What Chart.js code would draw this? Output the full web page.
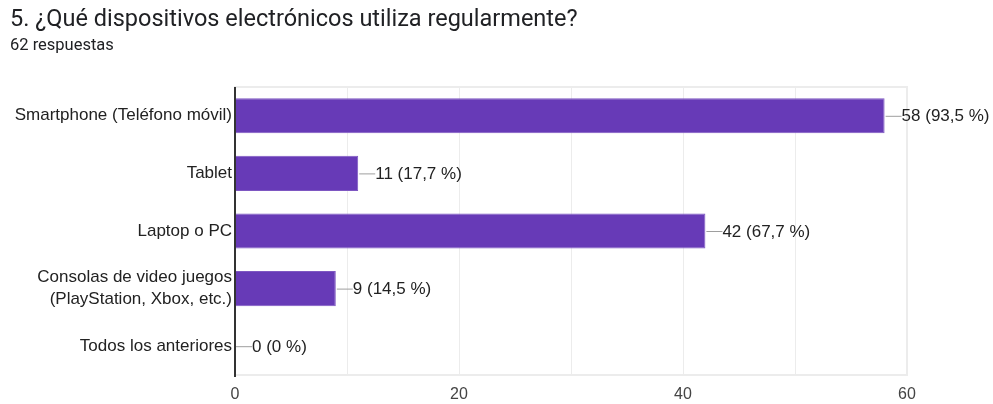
<!DOCTYPE html>
<html>
<head>
<meta charset="utf-8">
<script src="https://cdn.jsdelivr.net/npm/chart.js@4"></script>
<style>
  html, body { margin: 0; padding: 0; background: #fff; }
  #wrap { width: 993px; height: 404px; }
</style>
</head>
<body>
<div id="wrap"><canvas id="devices-chart" width="993" height="404"></canvas></div>
<script>
// ENCUESTA - pregunta 5

var categories = [
  "Smartphone (Teléfono móvil)",
  "Tablet",
  "Laptop o PC",
  ["Consolas de video juegos", "(PlayStation, Xbox, etc.)"],
  "Todos los anteriores",
];
var counts = [58, 11, 42, 9, 0];
var percents = ["93,5", "17,7", "67,7", "14,5", "0"];
var xTicks = [0, 20, 40, 60];

var labelFont = "Liberation Sans";

// leader line + "n (p %)" next to every bar
var valueLabels = {
  id: "valueLabels",
  afterDatasetsDraw: function (chart) {
    var ctx = chart.ctx;
    var meta = chart.getDatasetMeta(0);
    ctx.save();
    ctx.font = "17px " + labelFont;
    ctx.textBaseline = "middle";
    ctx.fillStyle = "#222";
    meta.data.forEach(function (bar, i) {
      var x = bar.x + 1;
      ctx.strokeStyle = "#9e9e9e";
      ctx.lineWidth = 1;
      ctx.beginPath();
      ctx.moveTo(x, bar.y + 0.5);
      ctx.lineTo(x + 16, bar.y + 0.5);
      ctx.stroke();
      ctx.fillText(counts[i] + " (" + percents[i] + " %)", x + 16, bar.y + 1);
    });
    ctx.restore();
  },
};

// light frame around the plot, dark baseline on the left
var plotFrame = {
  id: "plotFrame",
  beforeDatasetsDraw: function (chart) {
    var a = chart.chartArea;
    var ctx = chart.ctx;
    ctx.save();
    ctx.strokeStyle = "#ececec";
    ctx.lineWidth = 2;
    ctx.strokeRect(a.left, a.top, a.right - a.left, a.bottom - a.top);
    ctx.restore();
  },
  afterDatasetsDraw: function (chart) {
    var a = chart.chartArea;
    var ctx = chart.ctx;
    ctx.save();
    ctx.strokeStyle = "#333";
    ctx.lineWidth = 2;
    ctx.beginPath();
    ctx.moveTo(a.left, a.top);
    ctx.lineTo(a.left, a.bottom + 2);
    ctx.stroke();
    ctx.restore();
  },
};

var ctx = document.getElementById("devices-chart").getContext("2d");
var chart = new Chart(ctx, {
  type: "bar",
  data: {
    labels: categories,
    datasets: [
      {
        data: counts,
        backgroundColor: "#673ab7",
        borderColor: "#7e57c2",
        borderWidth: 1,
        barPercentage: 0.61,
        categoryPercentage: 1,
      },
    ],
  },
  plugins: [plotFrame, valueLabels],
  options: {
    indexAxis: "y",
    responsive: false,
    animation: false,
    layout: { padding: { left: 10, right: 86, top: 0, bottom: 0 } },
    plugins: {
      legend: { display: false },
      tooltip: { enabled: false },
      title: {
        display: true,
        text: "5. ¿Qué dispositivos electrónicos utiliza regularmente?",
        align: "start",
        color: "#202124",
        font: { family: "Roboto", size: 23.5, weight: "normal" },
        padding: { top: 6, bottom: 2 },
      },
      subtitle: {
        display: true,
        text: "62 respuestas",
        align: "start",
        color: "#202124",
        font: { family: "Roboto", size: 16.5 },
        padding: { top: 0, bottom: 31 },
      },
    },
    scales: {
      x: {
        min: 0,
        max: 60,
        border: { display: false },
        grid: { color: "#ececec", lineWidth: 1, drawTicks: false },
        ticks: {
          stepSize: 10,
          padding: 10,
          color: "#444",
          font: { family: labelFont, size: 16 },
          callback: function (v) {
            return xTicks.indexOf(v) >= 0 ? v : "";
          },
        },
        afterFit: function (scale) {
          scale.height = 29;
        },
      },
      y: {
        border: { display: false },
        grid: { display: false, drawTicks: false },
        ticks: {
          padding: 3,
          color: "#222",
          font: { family: labelFont, size: 17, lineHeight: 1.3 },
        },
        afterFit: function (scale) {
          scale.width = 225;
        },
      },
    },
  },
});
</script>
</body>
</html>
